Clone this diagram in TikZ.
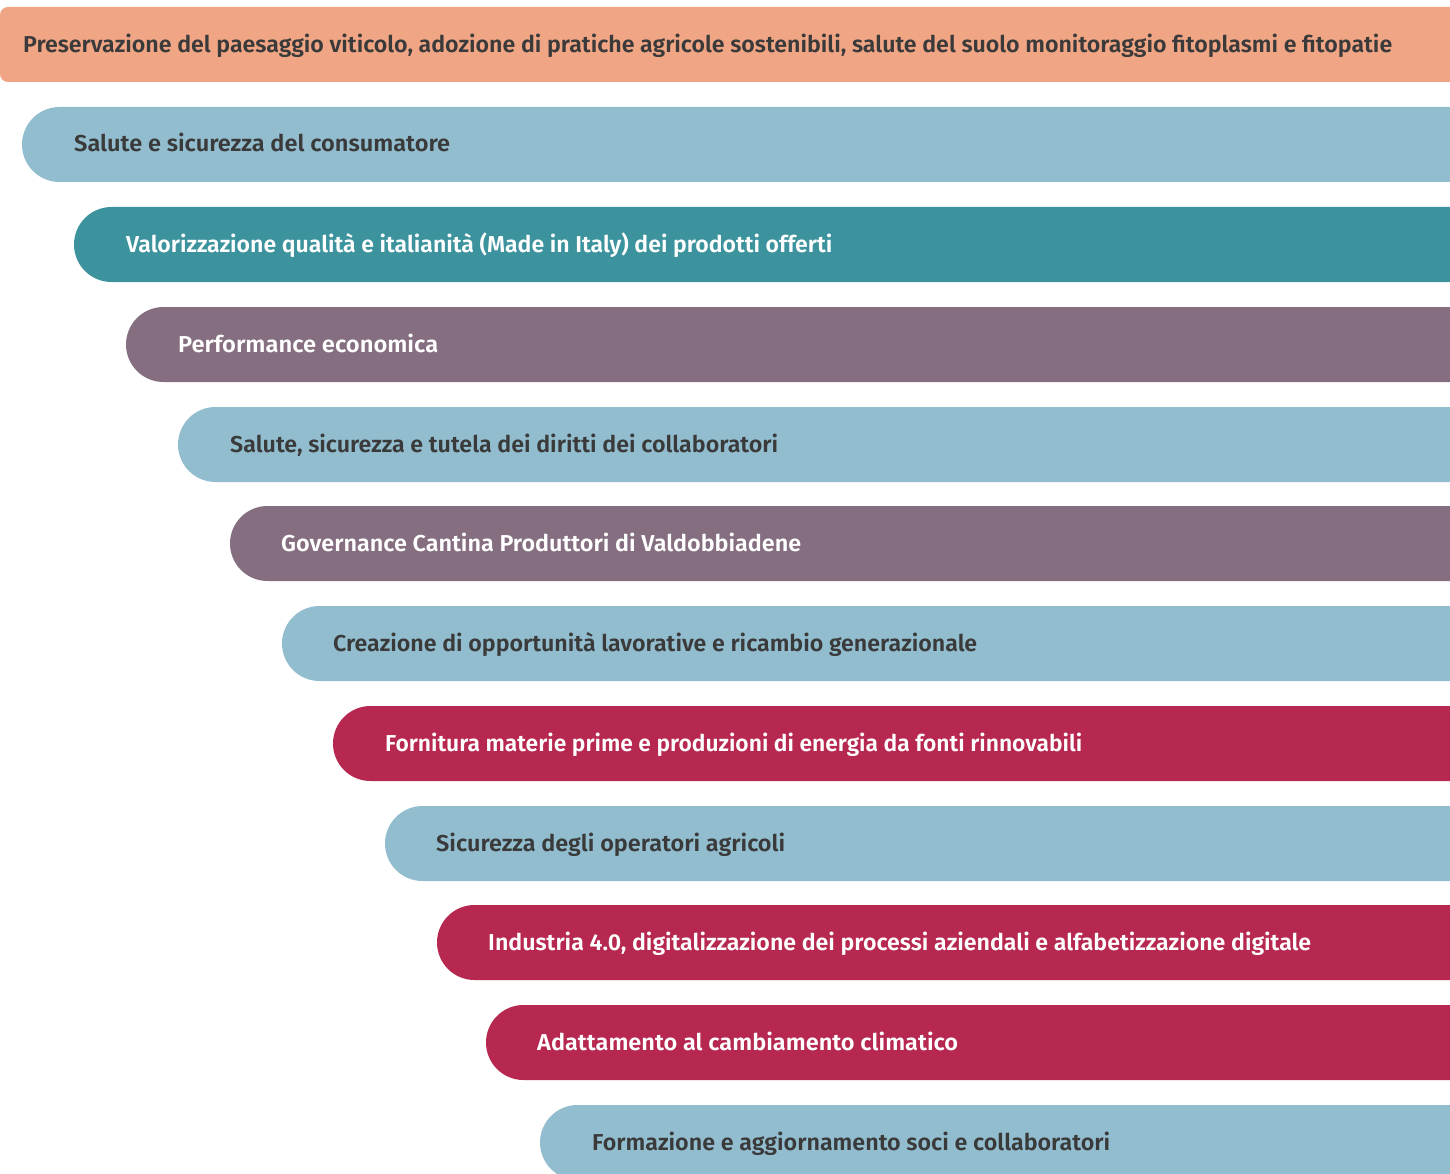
\documentclass[tikz,border=0pt]{standalone}
\usepackage{fontspec}
\usepackage{graphicx}
\newfontfamily\lab{Fira Sans SemiBold}
\definecolor{cOrange}{RGB}{240,165,132}
\definecolor{cBlue}{RGB}{145,189,207}
\definecolor{cTeal}{RGB}{60,147,157}
\definecolor{cPurple}{RGB}{132,110,128}
\definecolor{cRed}{RGB}{183,40,80}
\definecolor{txtDark}{RGB}{58,58,58}
\newcommand\fitw[2]{\resizebox{#1pt}{\height}{#2}}
\tikzset{
  lbl/.style={anchor=base west, inner sep=0pt, font=\lab\fontsize{23}{23}\selectfont},
  dk/.style={lbl, text=txtDark},
  wt/.style={lbl, text=white},
  pill/.style={rounded corners=37.5pt}
}
\begin{document}
\begin{tikzpicture}[x=1pt,y=-1pt]
\useasboundingbox (0,0) rectangle (1450,1174);
\clip (0,0) rectangle (1450,1174);
% top bar
\fill[cOrange, rounded corners=8pt] (0,7) rectangle (1500,82);
\node[dk] (t0) at (23,52.5) {\fitw{1369}{Preservazione del paesaggio viticolo, adozione di pratiche agricole sostenibili, salute del suolo monitoraggio fitoplasmi e fitopatie}};
% pills
\fill[cBlue, pill]   (22,107)  rectangle (1500,182);
\fill[cTeal, pill]   (74,207)  rectangle (1500,282);
\fill[cPurple, pill] (126,307) rectangle (1500,382);
\fill[cBlue, pill]   (178,407) rectangle (1500,482);
\fill[cPurple, pill] (230,506) rectangle (1500,581);
\fill[cBlue, pill]   (282,606) rectangle (1500,681);
\fill[cRed, pill]    (333,706) rectangle (1500,781);
\fill[cBlue, pill]   (385,806) rectangle (1500,881);
\fill[cRed, pill]    (437,905) rectangle (1500,980);
\fill[cRed, pill]    (486,1005) rectangle (1500,1080);
\fill[cBlue, pill]   (540,1105) rectangle (1500,1180);
% labels
\node[dk] (t1) at (74,152)   {\fitw{376}{Salute e sicurezza del consumatore}};
\node[wt] (t2) at (126,252)  {\fitw{706}{Valorizzazione qualità e italianità (Made in Italy) dei prodotti offerti}};
\node[wt] (t3) at (178,352)  {\fitw{260}{Performance economica}};
\node[dk] (t4) at (230,452)  {\fitw{548}{Salute, sicurezza e tutela dei diritti dei collaboratori}};
\node[wt] (t5) at (281,551)  {\fitw{520}{Governance Cantina Produttori di Valdobbiadene}};
\node[dk] (t6) at (333,651)  {\fitw{644}{Creazione di opportunità lavorative e ricambio generazionale}};
\node[wt] (t7) at (385,751)  {\fitw{697}{Fornitura materie prime e produzioni di energia da fonti rinnovabili}};
\node[dk] (t8) at (436,851)  {\fitw{349}{Sicurezza degli operatori agricoli}};
\node[wt] (t9) at (488,950)  {\fitw{823}{Industria 4.0, digitalizzazione dei processi aziendali e alfabetizzazione digitale}};
\node[wt] (t10) at (537,1050) {\fitw{421}{Adattamento al cambiamento climatico}};
\node[dk] (t11) at (592,1150) {\fitw{518}{Formazione e aggiornamento soci e collaboratori}};
\end{tikzpicture}
\end{document}
